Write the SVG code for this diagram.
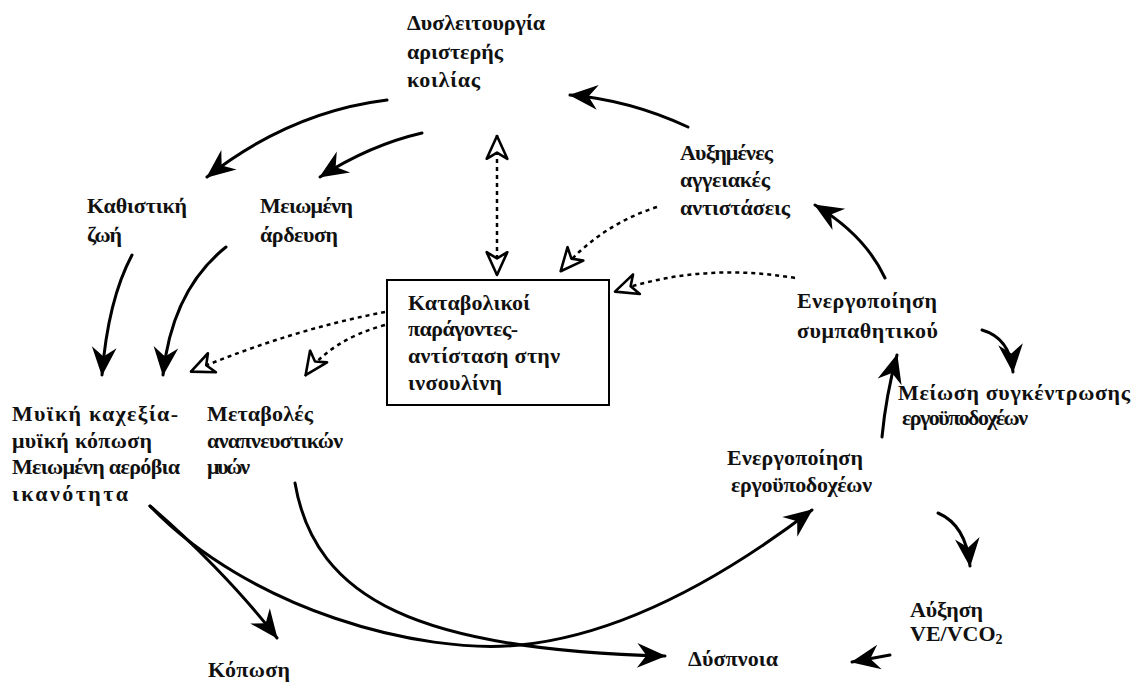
<svg xmlns="http://www.w3.org/2000/svg" width="1134" height="682" viewBox="0 0 1134 682">
<defs>
<style>
text{font-family:"Liberation Serif","DejaVu Serif",serif;font-weight:bold;font-size:22px;fill:#111}
.s{fill:none;stroke:#000;stroke-width:3;stroke-linecap:round}
.d{fill:none;stroke:#000;stroke-width:2.5;stroke-dasharray:4 4}
</style>
<marker id="ah" markerUnits="userSpaceOnUse" markerWidth="32" markerHeight="32" viewBox="-29 -14 31 28" refX="0" refY="0" orient="auto">
<path d="M1,0 L-27,-12 L-18,0 L-27,12 Z" fill="#000"/>
</marker>
<marker id="oh" markerUnits="userSpaceOnUse" markerWidth="30" markerHeight="30" viewBox="-27 -13 29 26" refX="0" refY="0" orient="auto-start-reverse">
<path d="M-1,0 L-23,-10 L-17,0 L-23,10 Z" fill="#fff" stroke="#000" stroke-width="2.5" stroke-linejoin="round"/>
</marker>
</defs>
<rect width="1134" height="682" fill="#fff"/>

<g id="connectors">
<path class="s" d="M387,100 Q290,112 207,177" marker-end="url(#ah)"/>
<path class="s" d="M422,133 Q370,145 320,177" marker-end="url(#ah)"/>
<path class="s" d="M688,127 Q630,100 570,95" marker-end="url(#ah)"/>
<path class="s" d="M885,278 Q865,235 815,205" marker-end="url(#ah)"/>
<path class="s" d="M982,330 Q1010,338 1013,372" marker-end="url(#ah)"/>
<path class="s" d="M882,437 Q886,395 897,355" marker-end="url(#ah)"/>
<path class="s" d="M938,513 Q966,525 970,566" marker-end="url(#ah)"/>
<path class="s" d="M890,655 L852,662" marker-end="url(#ah)"/>
<path class="s" d="M132,255 Q108,300 102,375" marker-end="url(#ah)"/>
<path class="s" d="M226,247 Q172,290 163,375" marker-end="url(#ah)"/>
<path class="s" d="M150,506 C190,540 240,590 277,638" marker-end="url(#ah)"/>
<path class="s" d="M150,506 C250,610 420,655 520,645 C620,635 720,580 812,510" marker-end="url(#ah)"/>
<path class="s" d="M295,483 C315,600 420,650 665,656" marker-end="url(#ah)"/>
<path class="d" d="M497,135 L497,276" marker-start="url(#oh)" marker-end="url(#oh)"/>
<path class="d" d="M657,207 Q600,225 560,272" marker-end="url(#oh)"/>
<path class="d" d="M795,278 Q700,262 614,292" marker-end="url(#oh)"/>
<path class="d" d="M385,312 Q290,330 190,372" marker-end="url(#oh)"/>
<path class="d" d="M385,325 Q330,340 305,376" marker-end="url(#oh)"/>
</g>

<g id="n-lv">
<text x="407" y="30" textLength="138">Δυσλειτουργία</text>
<text x="407" y="59" textLength="96">αριστερής</text>
<text x="407" y="87" textLength="73">κοιλίας</text>
</g>
<g id="n-sed">
<text x="87" y="213" textLength="100">Καθιστική</text>
<text x="87" y="242" textLength="35">ζωή</text>
</g>
<g id="n-perf">
<text x="260" y="213" textLength="93">Μειωμένη</text>
<text x="260" y="242" textLength="78">άρδευση</text>
</g>
<g id="n-cat">
<rect x="387" y="280" width="222" height="125" fill="none" stroke="#000" stroke-width="2"/>
<text x="408" y="310" textLength="122">Καταβολικοί</text>
<text x="408" y="336" textLength="110">παράγοντες-</text>
<text x="408" y="363" textLength="152">αντίσταση στην</text>
<text x="408" y="390" textLength="94">ινσουλίνη</text>
</g>
<g id="n-res">
<text x="680" y="160" textLength="93">Αυξημένες</text>
<text x="680" y="187" textLength="90">αγγειακές</text>
<text x="680" y="215" textLength="110">αντιστάσεις</text>
</g>
<g id="n-symp">
<text x="797" y="308" textLength="140">Ενεργοποίηση</text>
<text x="797" y="338" textLength="141">συμπαθητικού</text>
</g>
<g id="n-dens">
<text x="898" y="400" textLength="232">Μείωση συγκέντρωσης</text>
<text x="902" y="425" textLength="126">εργοϋποδοχέων</text>
</g>
<g id="n-erg">
<text x="727" y="465" textLength="136">Ενεργοποίηση</text>
<text x="731" y="492" textLength="141">εργοϋποδοχέων</text>
</g>
<g id="n-musc">
<text x="12" y="421" textLength="166">Μυϊκή καχεξία-</text>
<text x="12" y="448" textLength="140">μυϊκή κόπωση</text>
<text x="12" y="474" textLength="168">Μειωμένη αερόβια</text>
<text x="12" y="501" textLength="116">ικανότητα</text>
</g>
<g id="n-resp">
<text x="207" y="421" textLength="106">Μεταβολές</text>
<text x="207" y="448" textLength="136">αναπνευστικών</text>
<text x="207" y="474" textLength="43">μυών</text>
</g>
<g id="n-fat">
<text x="208" y="677" textLength="82">Κόπωση</text>
</g>
<g id="n-dys">
<text x="688" y="666" textLength="90">Δύσπνοια</text>
</g>
<g id="n-ve">
<text x="910" y="617" textLength="73">Αύξηση</text>
<text x="910" y="641">VE/VCO<tspan font-size="14" dy="3">2</tspan></text>
</g>
</svg>
